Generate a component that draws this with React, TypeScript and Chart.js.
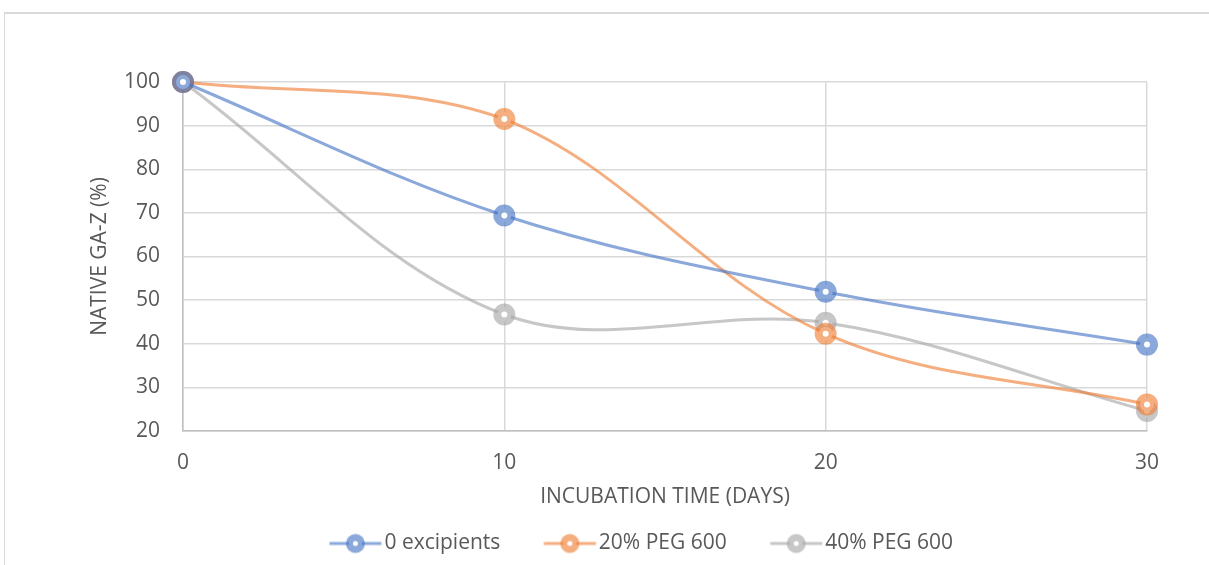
import React, { useEffect, useRef } from "react";
import { Chart, registerables } from "chart.js";

Chart.register(...registerables);

const days = [0, 10, 20, 30];
const noExcipients = [100, 69.4, 51.9, 39.8];
const peg20 = [100, 91.5, 42.3, 26.1];
const peg40 = [100, 46.7, 44.8, 24.6];
const seriesNames = ["0 excipients", "20% PEG 600", "40% PEG 600"];
const yTicks = [20, 30, 40, 50, 60, 70, 80, 90, 100];
const xTicks = [0, 10, 20, 30];

const COLORS = ["rgba(68,114,196,0.62)", "rgba(237,125,49,0.62)", "rgba(165,165,165,0.62)"];
const FONT = "'Open Sans'";
const FS = 21;
const TEXT = "#595959";

function legendIcon(color: string) {
  const c = document.createElement("canvas");
  c.width = 96;
  c.height = 24;
  const ctx = c.getContext("2d")!;
  ctx.strokeStyle = color;
  ctx.lineWidth = 3;
  ctx.beginPath();
  ctx.moveTo(42.5, 12);
  ctx.lineTo(94.5, 12);
  ctx.stroke();
  ctx.fillStyle = "#fff";
  ctx.beginPath();
  ctx.arc(68.5, 12, 6.5, 0, Math.PI * 2);
  ctx.fill();
  ctx.lineWidth = 7;
  ctx.beginPath();
  ctx.arc(68.5, 12, 6, 0, Math.PI * 2);
  ctx.stroke();
  return c;
}

export default function App() {
  const ref = useRef<HTMLCanvasElement>(null);
  useEffect(() => {
    const series = [noExcipients, peg20, peg40];
    const icons = COLORS.map(legendIcon);
    const chart = new Chart(ref.current!, {
      type: "line",
      data: {
        datasets: series.map((vals, i) => ({
          label: seriesNames[i],
          data: vals.map((v, j) => ({ x: days[j], y: v })),
          borderColor: COLORS[i],
          backgroundColor: "#ffffff",
          borderWidth: 3,
          pointRadius: 7,
          pointHoverRadius: 7,
          pointBorderWidth: 8,
          pointBorderColor: COLORS[i],
          pointBackgroundColor: "#ffffff",
          tension: 0.35,
          fill: false,
          clip: false,
        })),
      },
      options: {
        animation: false,
        responsive: false,
        layout: { padding: { left: 102, right: 62, top: 82, bottom: 1 } },
        plugins: {
          tooltip: { enabled: false },
          legend: {
            position: "bottom",
            labels: {
              usePointStyle: true,
              pointStyleWidth: 78,
              padding: 10,
              color: TEXT,
              font: { family: FONT, size: FS },
              generateLabels: (ch: any) => {
                const items = Chart.defaults.plugins.legend.labels.generateLabels(ch);
                return items.map((it: any, i: number) => ({ ...it, pointStyle: icons[i] }));
              },
            },
          },
        },
        scales: {
          x: {
            type: "linear",
            min: 0,
            max: 30,
            afterBuildTicks: (s: any) => {
              s.ticks = xTicks.map((v) => ({ value: v }));
            },
            afterFit: (s: any) => {
              s.height = 92;
            },
            grid: { color: "#D9D9D9", lineWidth: 1.5, drawTicks: false },
            border: { color: "#BFBFBF", width: 1.5 },
            ticks: { color: TEXT, font: { family: FONT, size: FS }, padding: 19 },
            title: {
              display: true,
              text: "INCUBATION TIME (DAYS)",
              color: TEXT,
              font: { family: FONT, size: FS },
              padding: { top: 0, bottom: 13 },
            },
          },
          y: {
            min: 20,
            max: 100,
            afterBuildTicks: (s: any) => {
              s.ticks = yTicks.map((v) => ({ value: v }));
            },
            afterFit: (s: any) => {
              s.width = 81;
            },
            grid: { color: "#D9D9D9", lineWidth: 1.5, drawTicks: false },
            border: { color: "#BFBFBF", width: 1.5 },
            ticks: { color: TEXT, font: { family: FONT, size: FS }, padding: 23 },
            title: {
              display: true,
              text: "NATIVE GA-Z (%)",
              color: TEXT,
              font: { family: FONT, size: FS },
              padding: { top: -15, bottom: 0 },
            },
          },
        },
      },
    } as any);
    return () => chart.destroy();
  }, []);
  return (
    <div style={{ position: "absolute", left: 0, top: 0, width: 1209, height: 565, background: "#fff", overflow: "hidden" }}>
      <div
        style={{
          position: "absolute",
          left: 4,
          top: 12,
          width: 1220,
          height: 600,
          borderTop: "2px solid #D9D9D9",
          borderLeft: "1px solid #D9D9D9",
          boxSizing: "border-box",
        }}
      />
      <canvas ref={ref} width={1209} height={565} style={{ position: "absolute", left: 0, top: 0 }} />
    </div>
  );
}
